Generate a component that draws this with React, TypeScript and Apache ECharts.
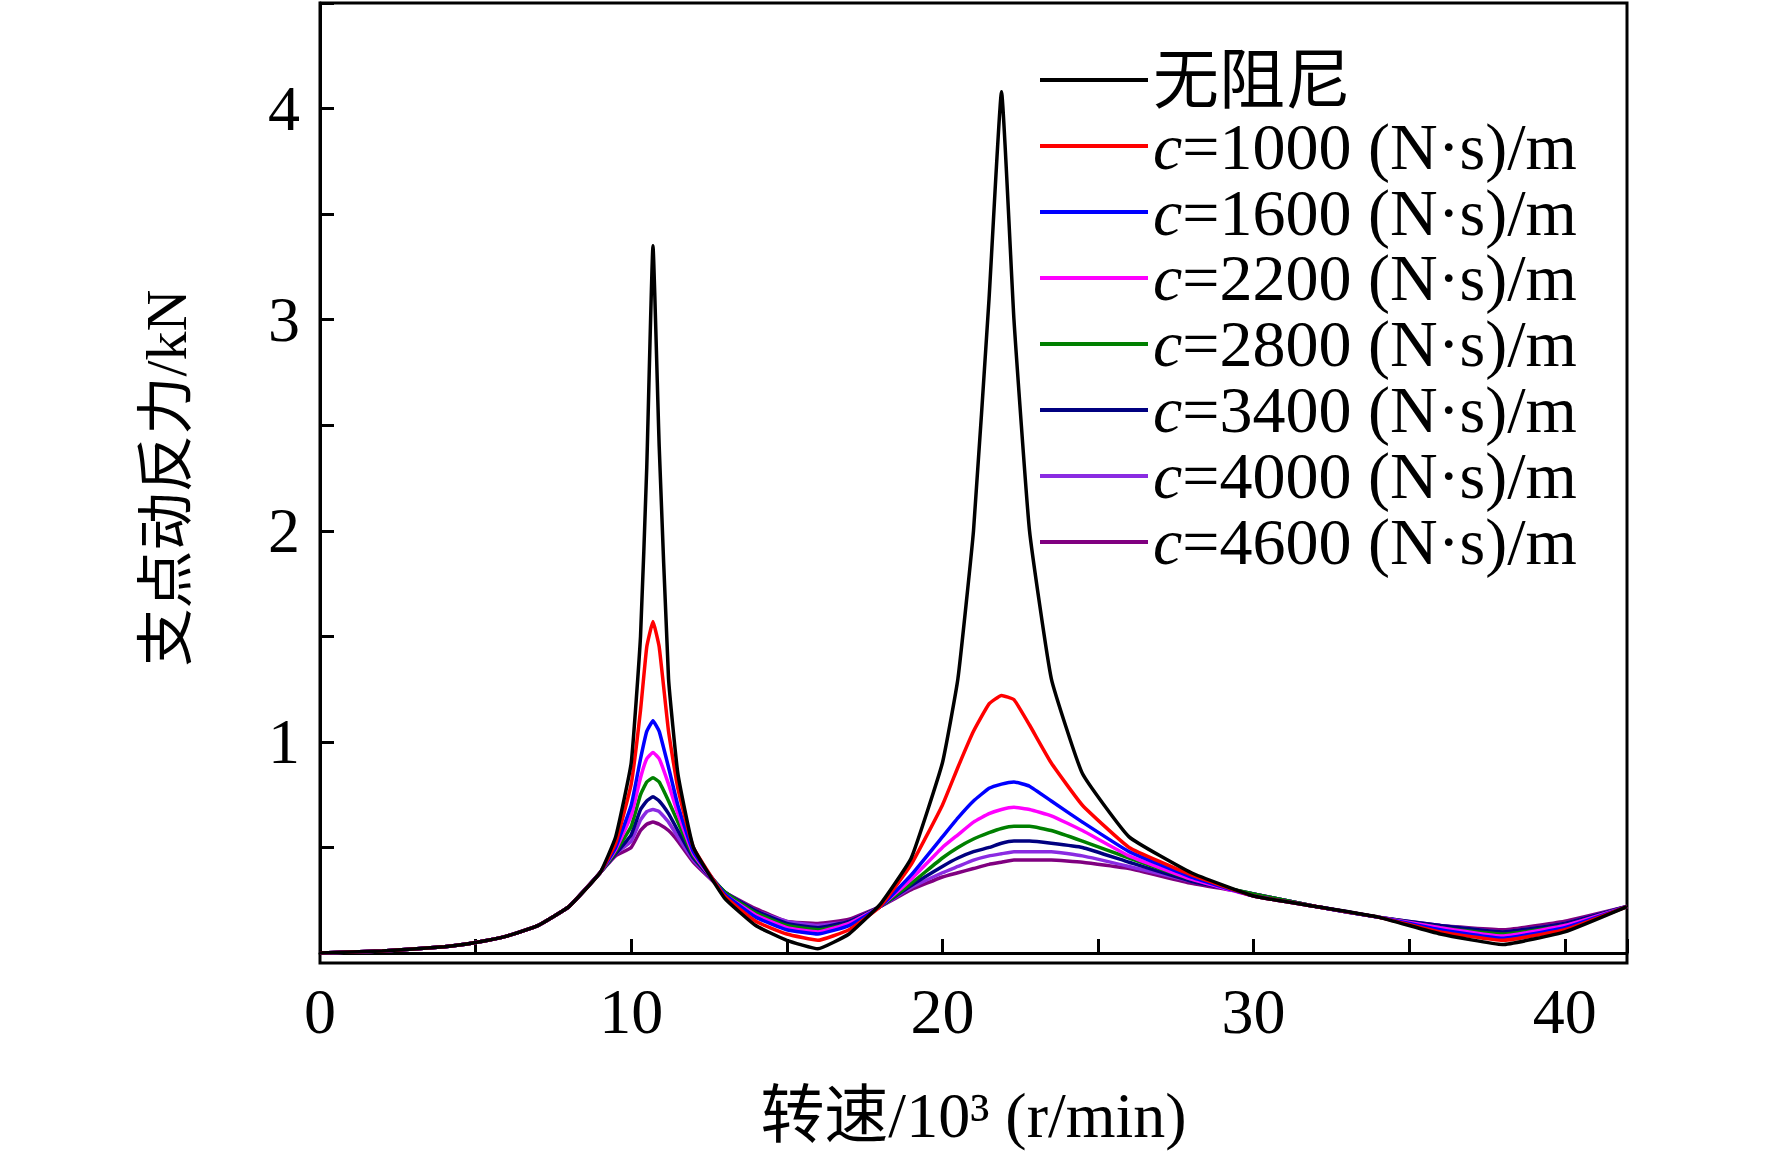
import { useEffect, useRef } from 'react'
import * as echarts from 'echarts'

const speeds = [0, 2, 4, 5, 6, 7, 8, 9, 9.5, 10, 10.3, 10.5, 10.7, 10.9, 11.2, 11.5, 12, 13, 14, 15, 16, 17, 18, 19, 20, 20.5, 21, 21.5, 21.9, 22.3, 22.8, 23.5, 24.5, 26, 28, 30, 32, 34, 36, 38, 40, 42]

const lead = [0, 0.01, 0.03, 0.05, 0.08, 0.13, 0.22, 0.38]

const undamped = [...lead, 0.55, 0.9, 1.5, 2.3, 3.35, 2.4, 1.3, 0.85, 0.5, 0.26, 0.13, 0.06, 0.02, 0.09, 0.23, 0.45, 0.9, 1.3, 2.0, 3.1, 4.08, 3.0, 2.0, 1.3, 0.85, 0.55, 0.38, 0.27, 0.22, 0.17, 0.09, 0.04, 0.1, 0.22]
const c1000 = [...lead, 0.52, 0.8, 1.15, 1.45, 1.57, 1.45, 1.05, 0.78, 0.5, 0.27, 0.15, 0.09, 0.06, 0.11, 0.22, 0.42, 0.7, 0.88, 1.05, 1.18, 1.22, 1.2, 1.08, 0.9, 0.7, 0.5, 0.37, 0.27, 0.22, 0.17, 0.1, 0.06, 0.11, 0.22]
const c1600 = [...lead, 0.5, 0.7, 0.92, 1.05, 1.1, 1.05, 0.88, 0.7, 0.48, 0.28, 0.17, 0.11, 0.09, 0.13, 0.22, 0.37, 0.55, 0.64, 0.72, 0.78, 0.8, 0.81, 0.79, 0.72, 0.62, 0.48, 0.36, 0.27, 0.22, 0.17, 0.11, 0.07, 0.12, 0.22]
const c2200 = [...lead, 0.49, 0.65, 0.83, 0.92, 0.95, 0.92, 0.8, 0.66, 0.47, 0.28, 0.18, 0.12, 0.1, 0.14, 0.22, 0.35, 0.5, 0.56, 0.62, 0.66, 0.68, 0.69, 0.68, 0.65, 0.58, 0.46, 0.35, 0.27, 0.22, 0.17, 0.12, 0.08, 0.13, 0.22]
const c2800 = [...lead, 0.48, 0.6, 0.75, 0.81, 0.83, 0.81, 0.72, 0.62, 0.46, 0.29, 0.19, 0.13, 0.11, 0.14, 0.22, 0.33, 0.45, 0.5, 0.54, 0.57, 0.59, 0.6, 0.6, 0.58, 0.53, 0.45, 0.35, 0.28, 0.22, 0.17, 0.12, 0.09, 0.13, 0.22]
const c3400 = [...lead, 0.47, 0.56, 0.68, 0.72, 0.74, 0.72, 0.66, 0.58, 0.45, 0.29, 0.2, 0.14, 0.12, 0.15, 0.22, 0.32, 0.41, 0.45, 0.48, 0.5, 0.52, 0.53, 0.53, 0.52, 0.5, 0.43, 0.34, 0.28, 0.22, 0.17, 0.13, 0.1, 0.14, 0.22]
const c4000 = [...lead, 0.47, 0.53, 0.63, 0.67, 0.68, 0.67, 0.62, 0.55, 0.44, 0.29, 0.2, 0.15, 0.13, 0.15, 0.22, 0.31, 0.38, 0.41, 0.44, 0.46, 0.47, 0.48, 0.48, 0.48, 0.46, 0.41, 0.34, 0.28, 0.22, 0.17, 0.13, 0.1, 0.14, 0.22]
const c4600 = [...lead, 0.46, 0.5, 0.58, 0.61, 0.62, 0.61, 0.58, 0.53, 0.43, 0.29, 0.21, 0.15, 0.14, 0.16, 0.22, 0.3, 0.36, 0.38, 0.4, 0.42, 0.43, 0.44, 0.44, 0.44, 0.43, 0.4, 0.33, 0.28, 0.22, 0.17, 0.13, 0.11, 0.15, 0.22]

const seriesNames = ['无阻尼', 'c=1000', 'c=1600', 'c=2200', 'c=2800', 'c=3400', 'c=4000', 'c=4600']
const seriesColors = ['#000000', '#ff0000', '#0000ff', '#ff00ff', '#008000', '#000080', '#8a2be2', '#800080']
const seriesValues = [undamped, c1000, c1600, c2200, c2800, c3400, c4000, c4600]

const font = '"Liberation Serif", "Noto Sans CJK SC", serif'

export default function App() {
  const chartRef = useRef<HTMLDivElement>(null)

  useEffect(() => {
    if (!chartRef.current) return
    const chart = echarts.init(chartRef.current, null, { renderer: 'svg' })

    const option: any = {
      animation: false,
      backgroundColor: '#fff',
      textStyle: { fontFamily: font },
      grid: { left: 320, right: 145, top: 3, bottom: 189 },
      legend: {
        orient: 'vertical',
        left: 1035,
        top: 42,
        itemWidth: 108,
        itemHeight: 4,
        itemGap: 0,
        icon: 'rect',
        data: seriesNames,
        formatter: (name: string) =>
          name.startsWith('c=') ? `{i|c}{n|${name.slice(1)} (N·s)/m}` : `{n|${name}}`,
        textStyle: {
          rich: {
            i: { fontFamily: font, fontStyle: 'italic', fontSize: 66, color: '#000', lineHeight: 68 },
            n: { fontFamily: font, fontSize: 66, color: '#000', lineHeight: 68 }
          }
        }
      },
      xAxis: {
        type: 'value',
        min: 0,
        max: 42,
        interval: 10,
        name: '转速/10³ (r/min)',
        nameLocation: 'middle',
        nameGap: 130,
        nameTextStyle: { fontSize: 64, color: '#000', fontFamily: font },
        axisLine: { onZero: false, lineStyle: { color: '#000', width: 3 } },
        axisTick: { inside: true, length: 14, lineStyle: { width: 3 } },
        minorTick: { show: true, splitNumber: 2, length: 14, lineStyle: { color: '#000', width: 3 } },
        axisLabel: { fontSize: 64, color: '#000', margin: 26, fontFamily: font, showMaxLabel: false },
        splitLine: { show: false }
      },
      yAxis: {
        type: 'value',
        min: 0,
        max: 4.5,
        interval: 1,
        name: '支点动反力/kN',
        nameLocation: 'middle',
        nameGap: 125,
        nameTextStyle: { fontSize: 58, color: '#000', fontFamily: font },
        axisLine: { lineStyle: { color: '#000', width: 3 } },
        axisTick: { inside: true, length: 14, lineStyle: { width: 3 } },
        minorTick: { show: true, splitNumber: 2, length: 14, lineStyle: { color: '#000', width: 3 } },
        axisLabel: {
          fontSize: 64, color: '#000', margin: 20, fontFamily: font, showMaxLabel: false,
          formatter: (v: number) => (v === 0 || v > 4 ? '' : String(v))
        },
        splitLine: { show: false }
      },
      graphic: [
        {
          type: 'rect',
          shape: { x: 320, y: 3, width: 1772 - 320 - 145, height: 1152 - 3 - 189 },
          style: { fill: 'none', stroke: '#000', lineWidth: 3 },
          silent: true
        }
      ],
      series: seriesNames.map((name, i) => ({
        name,
        type: 'line',
        showSymbol: false,
        smooth: 0.12,
        lineStyle: { color: seriesColors[i], width: 3.5 },
        itemStyle: { color: seriesColors[i] },
        z: 10 - i,
        data: speeds.map((x, j) => [x, seriesValues[i][j]])
      }))
    }

    chart.setOption(option)
    return () => chart.dispose()
  }, [])

  return <div ref={chartRef} style={{ position: 'fixed', left: 0, top: 0, width: 1772, height: 1152 }} />
}
